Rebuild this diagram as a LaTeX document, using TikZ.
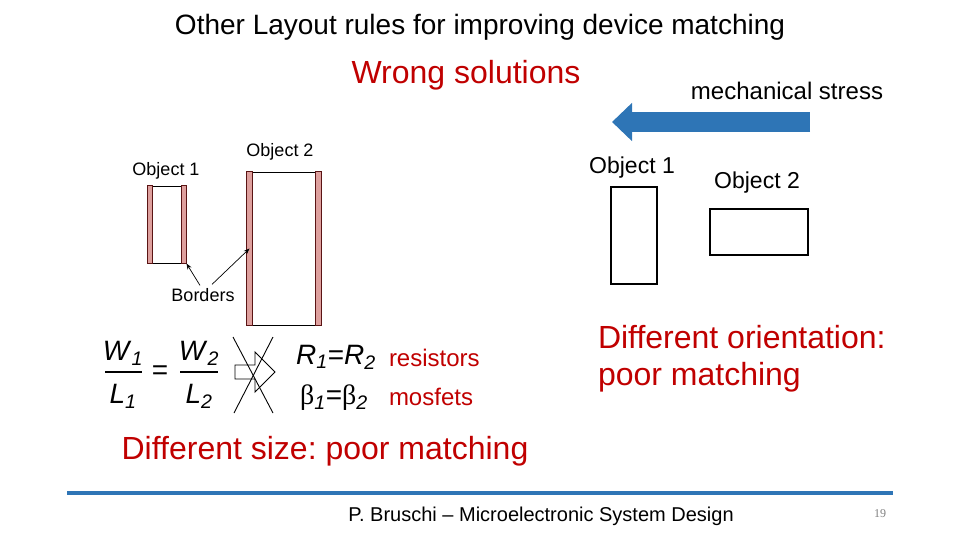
\documentclass[tikz,border=0pt]{standalone}
\usepackage{fontspec}
\setmainfont{Liberation Sans}
\newfontfamily\serifB{Liberation Serif}
\usetikzlibrary{arrows.meta,calc}
\definecolor{myred}{RGB}{192,0,0}
\definecolor{myblue}{RGB}{46,117,182}
\definecolor{bpink}{RGB}{222,160,158}
\definecolor{bedge}{RGB}{90,20,20}
\newcommand{\fs}[1]{\fontsize{#1}{#1}\selectfont}
\frenchspacing
\begin{document}
\begin{tikzpicture}[x=1pt,y=-1pt,
  txt/.style={inner sep=0pt, outer sep=0pt},
  redtxt/.style={txt, text=myred},
  objbox/.style={draw=black, line width=1.3pt, inner sep=0pt},
  strip/.style={draw=bedge, fill=bpink, line width=0.7pt},
  thinarrow/.style={draw=black, line width=0.7pt, -{Stealth[length=6pt,width=4.5pt]}},
  bigarrow/.style={draw=myblue, line width=20pt, -{Triangle[length=20pt,width=37pt]}}]
\useasboundingbox (0,0) rectangle (960,540);

% title
\node[txt] (title) at (480,27) {\fs{28}Other Layout rules for improving device matching};
\node[redtxt] (wrong) at (466,75) {\fs{32}Wrong solutions};
\node[txt] (stress) at (787,91) {\fs{24}mechanical stress};

% stress arrow
\coordinate (sR) at (810,122);
\coordinate (sL) at (612,122);
\draw[bigarrow] (sR) -- (sL);

% right objects
\node[txt] (o1Rlbl) at (632,168) {\fs{23}Object 1};
\node[objbox, minimum width=46pt, minimum height=97pt] (o1R) at (634,235.5) {};
\node[txt] (o2Rlbl) at (757,183) {\fs{23}Object 2};
\node[objbox, minimum width=98pt, minimum height=46pt] (o2R) at (759,232) {};

% left objects
\node[txt] (o1Llbl) at (166,171) {\fs{18}Object 1};
\node[objbox, line width=0.9pt, minimum width=38pt, minimum height=77pt] (o1L) at (167,224.5) {};
\draw[strip] (o1L.north west) rectangle ($(o1L.south west)+(5,0)$);
\draw[strip] (o1L.north east) rectangle ($(o1L.south east)+(-5,0)$);

\node[txt] (o2Llbl) at (280,152) {\fs{18}Object 2};
\node[objbox, line width=0.9pt, minimum width=74pt, minimum height=153pt] (o2L) at (284,248.5) {};
\draw[strip] (o2L.north west) rectangle ($(o2L.south west)+(6,0)$);
\draw[strip] (o2L.north east) rectangle ($(o2L.south east)+(-6,0)$);

\node[txt] (borders) at (203,295) {\fs{18}Borders};
\draw[thinarrow] ($(borders.north)+(-3,-3)$) -- (o1L.south east);
\draw[thinarrow] ($(borders.north)+(9,-4)$) -- ($(o2L.west)+(3,0)$);

% formula
\node[txt] (w1) at (123,353) {\fs{28}\textit{W}\textsubscript{\textit{1}}};
\node[txt] (l1) at (123,396) {\fs{28}\textit{L}\textsubscript{\textit{1}}};
\draw[line width=1.6pt] (105,372) -- (142,372);
\node[txt] (eq) at (160,373) {\fs{28}=};
\node[txt] (w2) at (199,353) {\fs{28}\textit{W}\textsubscript{\textit{2}}};
\node[txt] (l2) at (199,396) {\fs{28}\textit{L}\textsubscript{\textit{2}}};
\draw[line width=1.6pt] (180,372) -- (218,372);

% crossed hollow arrow
\draw[line width=0.9pt] (235,365) -- (255,365) -- (255,352) -- (275,372) -- (255,392) -- (255,379) -- (235,379) -- cycle;
\draw[line width=0.9pt] (233,337) -- (273,413);
\draw[line width=0.9pt] (273,337) -- (234,413);

\node[txt] (req) at (336,357) {\fs{28}\textit{R}\textsubscript{\textit{1}}=\textit{R}\textsubscript{\textit{2}}};
\node[txt] (beq) at (334,398) {\fs{28}{\serifB β}\textsubscript{\textit{1}}={\serifB β}\textsubscript{\textit{2}}};
\node[redtxt, anchor=west] (res) at (389,358) {\fs{24}resistors};
\node[redtxt, anchor=west] (mos) at (389,397) {\fs{24}mosfets};

% conclusions
\node[redtxt, anchor=west] (diffor) at (598,337) {\fs{32}Different orientation:};
\node[redtxt, anchor=west] (poor) at (598,377) {\fs{32}poor matching};
\node[redtxt] (diffsize) at (325,451) {\fs{32}Different size: poor matching};

% footer
\coordinate (lineL) at (67,493);
\coordinate (lineR) at (893,493);
\draw[myblue, line width=4pt] (lineL) -- (lineR);
\node[txt] (footer) at (541,516) {\fs{20}P. Bruschi – Microelectronic System Design};
\node[txt, text=gray] (page) at (880,514) {\fs{12}\serifB 19};
\end{tikzpicture}
\end{document}
